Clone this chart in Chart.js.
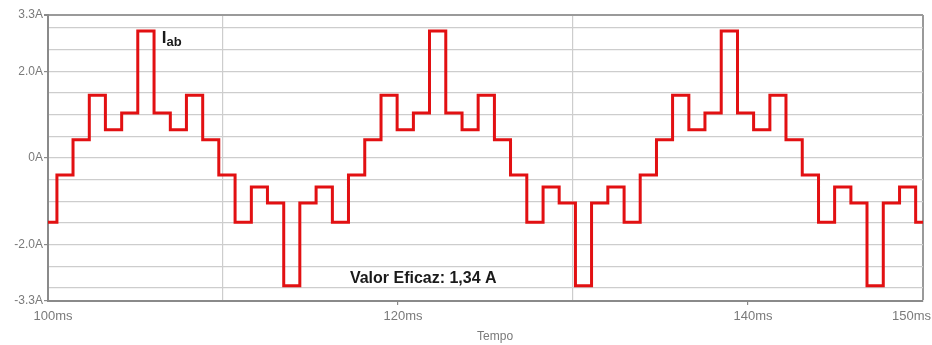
<!DOCTYPE html>
<html>
<head>
<meta charset="utf-8">
<title>Iab</title>
<script src="https://cdn.jsdelivr.net/npm/chart.js@4.4.1/dist/chart.umd.min.js"></script>
<style>
  body { margin: 0; background: #fff; }
  #wrap { width: 932px; height: 345px; }
</style>
</head>
<body>
<div id="wrap"><canvas id="IabChart"></canvas></div>
<script>
// instants where the staircase changes level (ms) and the level held from there (A)
const tempo = [100.00, 100.51, 101.43, 102.36, 103.28, 104.21, 105.13, 106.06, 106.99, 107.91,
  108.84, 109.76, 110.69, 111.62, 112.54, 113.47, 114.39, 115.32, 116.25, 117.17,
  118.10, 119.03, 119.95, 120.88, 121.80, 122.73, 123.66, 124.58, 125.51, 126.43,
  127.36, 128.29, 129.21, 130.14, 131.06, 131.99, 132.92, 133.84, 134.77, 135.69,
  136.62, 137.54, 138.47, 139.40, 140.32, 141.25, 142.17, 143.10, 144.03, 144.95,
  145.88, 146.80, 147.73, 148.66, 149.58, 150.00];
const corrente = [-1.48, -0.39, 0.42, 1.45, 0.65, 1.04, 2.93, 1.04, 0.65, 1.45,
  0.42, -0.39, -1.48, -0.67, -1.04, -2.95, -1.04, -0.67, -1.48, -0.39,
  0.42, 1.45, 0.65, 1.04, 2.93, 1.04, 0.65, 1.45, 0.42, -0.39,
  -1.48, -0.67, -1.04, -2.95, -1.04, -0.67, -1.48, -0.39, 0.42, 1.45,
  0.65, 1.04, 2.93, 1.04, 0.65, 1.45, 0.42, -0.39, -1.48, -0.67,
  -1.04, -2.95, -1.04, -0.67, -1.48, -1.48];

// axes
const yGrid = [-3.3, -3, -2.5, -2, -1.5, -1, -0.5, 0, 0.5, 1, 1.5, 2, 2.5, 3, 3.3];
const yLabelValues = [3.3, 2, 0, -2, -3.3];
const yLabels = ['3.3A', '2.0A', '0A', '-2.0A', '-3.3A'];
const xGrid = [100, 110, 120, 130, 140, 150];
const xLineValues = [110, 130];
const xLabelValues = [100, 120, 140, 150];
const xLabels = ['100ms', '120ms', '140ms', '150ms'];

const points = tempo.map(function(t, i){
  return {x: t, y: corrente[i]};
});

const gray = '#7a7a7a';
const font = '"Liberation Sans", Arial, sans-serif';

// tick texts of the time axis, axis name, and the two notes on the plot
const textos = {
  id: 'textos',
  afterDraw(chart) {
    const c = chart.ctx;
    const x = chart.scales.x;
    const y = chart.scales.y;
    c.save();
    c.font = '13px ' + font;
    c.fillStyle = gray;
    c.textBaseline = 'middle';
    xLabelValues.forEach(function(v, i){
      const last = i === xLabelValues.length - 1;
      c.textAlign = last ? 'right' : 'center';
      c.fillText(xLabels[i], x.getPixelForValue(v) + (last ? 8 : 5), y.bottom + 15);
    });
    c.font = '12px ' + font;
    c.textAlign = 'center';
    c.fillText('Tempo', x.getPixelForValue(125.55), y.bottom + 36);

    c.fillStyle = '#1a1a1a';
    c.textAlign = 'left';
    c.textBaseline = 'alphabetic';
    const ix = x.getPixelForValue(106.5);
    const iy = y.getPixelForValue(2.66);
    c.font = 'bold 17px ' + font;
    c.fillText('I', ix, iy);
    const w = c.measureText('I').width;
    c.font = 'bold 13px ' + font;
    c.fillText('ab', ix + w, iy + 3);

    c.font = 'bold 16px ' + font;
    c.textBaseline = 'middle';
    c.fillText('Valor Eficaz: 1,34 A', x.getPixelForValue(117.25), y.getPixelForValue(-2.78));
    c.restore();
  }
};

const ctx = document.getElementById('IabChart');

new Chart(ctx, {
  type: 'line',
  data: {
    datasets: [{
      label: 'Iab',
      data: points,
      stepped: true,
      borderColor: 'rgb(226, 16, 18)',
      borderWidth: 3,
      pointRadius: 0,
      fill: false,
    }]
  },
  options: {
    responsive: true,
    maintainAspectRatio: false,
    animation: false,
    layout: {
      padding: {top: 15, right: 9, left: 0, bottom: 0}
    },
    plugins: {
      legend: {display: false},
      tooltip: {enabled: false},
    },
    scales: {
      x: {
        type: 'linear',
        min: 100,
        max: 150,
        afterBuildTicks: function(scale){
          scale.ticks = xGrid.map(function(v){ return {value: v}; });
        },
        afterFit: function(scale){
          scale.height = 44;
          scale.paddingLeft = 0;
          scale.paddingRight = 0;
        },
        ticks: {display: false},
        grid: {
          color: function(c){
            if (c.tick && c.tick.value === 150) return '#9a9a9a';
            if (c.tick && xLineValues.includes(c.tick.value)) return '#cdcdcd';
            return 'rgba(0,0,0,0)';
          },
          lineWidth: function(c){
            return (c.tick && c.tick.value === 150) ? 2 : 1.2;
          },
          tickColor: function(c){
            return (c.tick && (c.tick.value === 120 || c.tick.value === 140)) ? '#8a8a8a' : 'rgba(0,0,0,0)';
          },
          tickLength: 4,
        },
        border: {display: true, color: '#8a8a8a', width: 2},
      },
      y: {
        min: -3.3,
        max: 3.3,
        afterBuildTicks: function(scale){
          scale.ticks = yGrid.map(function(v){ return {value: v}; });
        },
        afterFit: function(scale){
          scale.width = 48;
        },
        ticks: {
          autoSkip: false,
          padding: 1,
          color: gray,
          font: {family: font, size: 12},
          callback: function(value){
            const i = yLabelValues.indexOf(Number(value.toFixed(1)));
            return i >= 0 ? yLabels[i] : '';
          }
        },
        grid: {
          color: function(c){
            return (c.tick && c.tick.value === 3.3) ? '#9a9a9a' : '#cdcdcd';
          },
          lineWidth: function(c){
            return (c.tick && c.tick.value === 3.3) ? 2 : 1.2;
          },
          tickColor: function(c){
            return (c.tick && yLabelValues.includes(c.tick.value)) ? '#8a8a8a' : 'rgba(0,0,0,0)';
          },
          tickLength: 4,
        },
        border: {display: true, color: '#8a8a8a', width: 2},
      }
    }
  },
  plugins: [textos]
});
</script>
</body>
</html>
